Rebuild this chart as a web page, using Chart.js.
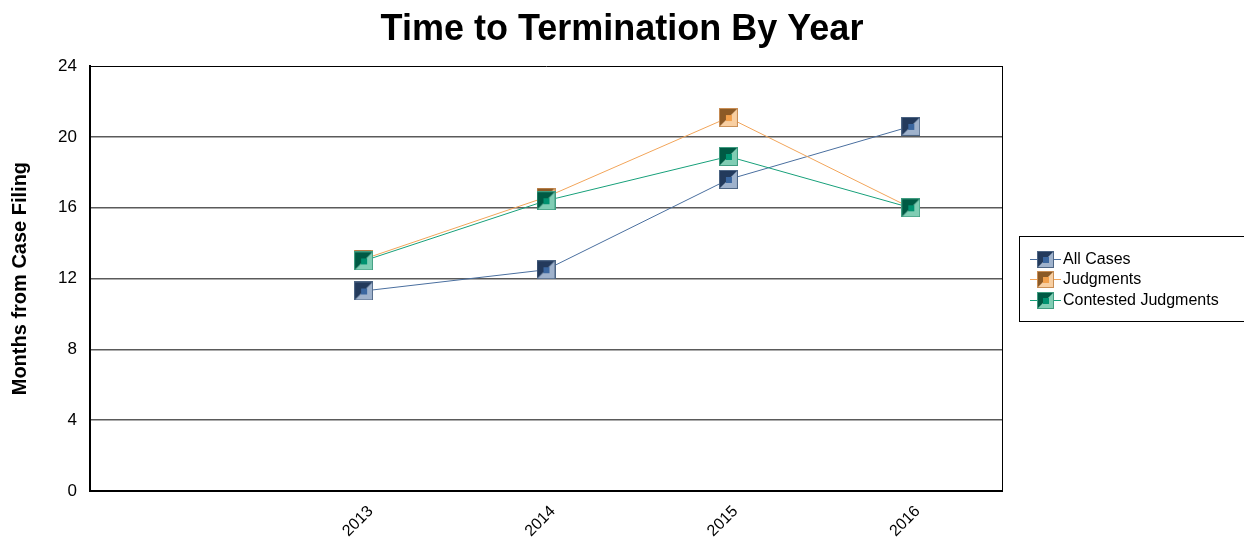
<!DOCTYPE html>
<html>
<head>
<meta charset="utf-8">
<script src="https://cdn.jsdelivr.net/npm/chart.js@4/dist/chart.umd.min.js"></script>
<style>
  html, body { margin: 0; padding: 0; background: #ffffff; }
  #wrap { width: 1244px; height: 543px; position: relative; }
</style>
</head>
<body>
<div id="wrap"><canvas id="c" width="1244" height="543"></canvas></div>
<script>
const categories = ['', '2013', '2014', '2015', '2016'];
const allCases = [null, 11.3, 12.5, 17.6, 20.6];
const judgments = [null, 13.1, 16.6, 21.1, 16.0];
const contested = [null, 13.0, 16.4, 18.9, 16.0];
const seriesNames = ['All Cases', 'Judgments', 'Contested Judgments'];
const yTicks = [0, 4, 8, 12, 16, 20, 24];

const FONT = '"Liberation Sans", Arial, sans-serif';

function makeMarker(size, dark, light, mid, edge) {
  const c = document.createElement('canvas');
  c.width = size; c.height = size;
  const g = c.getContext('2d');
  g.fillStyle = light;
  g.fillRect(0, 0, size, size);
  g.fillStyle = dark;
  g.beginPath(); g.moveTo(0, 0); g.lineTo(size, 0); g.lineTo(0, size); g.closePath(); g.fill();
  const m = Math.round(size * 0.34);
  const o = Math.round((size - m) / 2);
  g.fillStyle = mid;
  g.fillRect(o, o, m, m);
  g.strokeStyle = edge; g.lineWidth = 1;
  g.strokeRect(0.5, 0.5, size - 1, size - 1);
  return c;
}

const palettes = [
  { line: '#4a6f9f', dark: '#233a5c', light: '#9fb2cc', mid: '#3b67a0', edge: '#4d6584' },
  { line: '#f2a55a', dark: '#8c5a26', light: '#f8cfa2', mid: '#f2a04c', edge: '#c98e55' },
  { line: '#17a07a', dark: '#005a44', light: '#80cdb4', mid: '#009270', edge: '#3f9c80' }
];
const markers = palettes.map(p => makeMarker(19, p.dark, p.light, p.mid, p.edge));
const legendMarkers = palettes.map(p => makeMarker(17, p.dark, p.light, p.mid, p.edge));
const seriesData = [allCases, judgments, contested];

const datasets = seriesNames.map((name, i) => ({
  label: name,
  data: seriesData[i],
  borderColor: palettes[i].line,
  backgroundColor: palettes[i].line,
  borderWidth: 1,
  tension: 0,
  pointStyle: markers[i],
  pointRadius: 9,
  pointHoverRadius: 9,
  order: 3 - i,
  spanGaps: false
}));

const legendPlugin = {
  id: 'customLegend',
  afterDraw(chart) {
    const ctx = chart.ctx;
    ctx.save();
    ctx.strokeStyle = '#000';
    ctx.lineWidth = 1;
    ctx.strokeRect(1019.5, 236.5, 240, 85);
    ctx.font = '16px ' + FONT;
    ctx.textBaseline = 'middle';
    chart.data.datasets.forEach((ds, i) => {
      const y = Math.round(258.5 + i * 20.5);
      ctx.strokeStyle = ds.borderColor;
      ctx.lineWidth = 1;
      ctx.beginPath(); ctx.moveTo(1030, y + 0.5); ctx.lineTo(1061, y + 0.5); ctx.stroke();
      ctx.drawImage(legendMarkers[i], 1037, y - 8);
      ctx.fillStyle = '#000';
      ctx.fillText(ds.label, 1063, y + 1);
    });
    ctx.restore();
  }
};

new Chart(document.getElementById('c'), {
  type: 'line',
  data: { labels: categories, datasets: datasets },
  plugins: [legendPlugin],
  options: {
    responsive: false,
    animation: false,
    devicePixelRatio: 1,
    layout: { padding: { left: 0, right: 0, top: 0, bottom: 0 } },
    plugins: {
      legend: { display: false },
      tooltip: { enabled: false },
      title: {
        display: true,
        text: 'Time to Termination By Year',
        color: '#000',
        font: { family: FONT, size: 36, weight: 'bold' },
        padding: { top: 8, bottom: 15 }
      }
    },
    scales: {
      x: {
        type: 'category',
        offset: true,
        grid: { display: false, drawTicks: false },
        border: { display: true, color: '#000', width: 2 },
        ticks: {
          color: '#000',
          font: { family: FONT, size: 16 },
          minRotation: 45, maxRotation: 45,
          padding: 11,
          labelOffset: 7,
          autoSkip: false
        },
        afterFit(s) { s.height = 52; }
      },
      y: {
        min: 0, max: 24,
        afterBuildTicks(s) { s.ticks = yTicks.map(v => ({ value: v })); },
        grid: {
          drawTicks: false,
          color: ctx => (ctx.tick && (ctx.tick.value === 24)) ? '#000' : '#5a5a5a',
          lineWidth: ctx => (ctx.tick && (ctx.tick.value === 24)) ? 1 : 1.5
        },
        border: { display: true, color: '#000', width: 2 },
        ticks: {
          color: '#000',
          font: { family: FONT, size: 17 },
          padding: 13
        },
        title: {
          display: true,
          text: 'Months from Case Filing',
          color: '#000',
          font: { family: FONT, size: 20, weight: 'bold' },
          padding: { top: 8, bottom: 0 }
        },
        afterFit(s) { s.width = 90; }
      },
      yRight: {
        position: 'right',
        min: 0, max: 24,
        grid: { display: false, drawTicks: false },
        border: { display: true, color: '#000', width: 1 },
        ticks: { display: false },
        afterFit(s) { s.width = 242; }
      }
    }
  }
});
</script>
</body>
</html>
